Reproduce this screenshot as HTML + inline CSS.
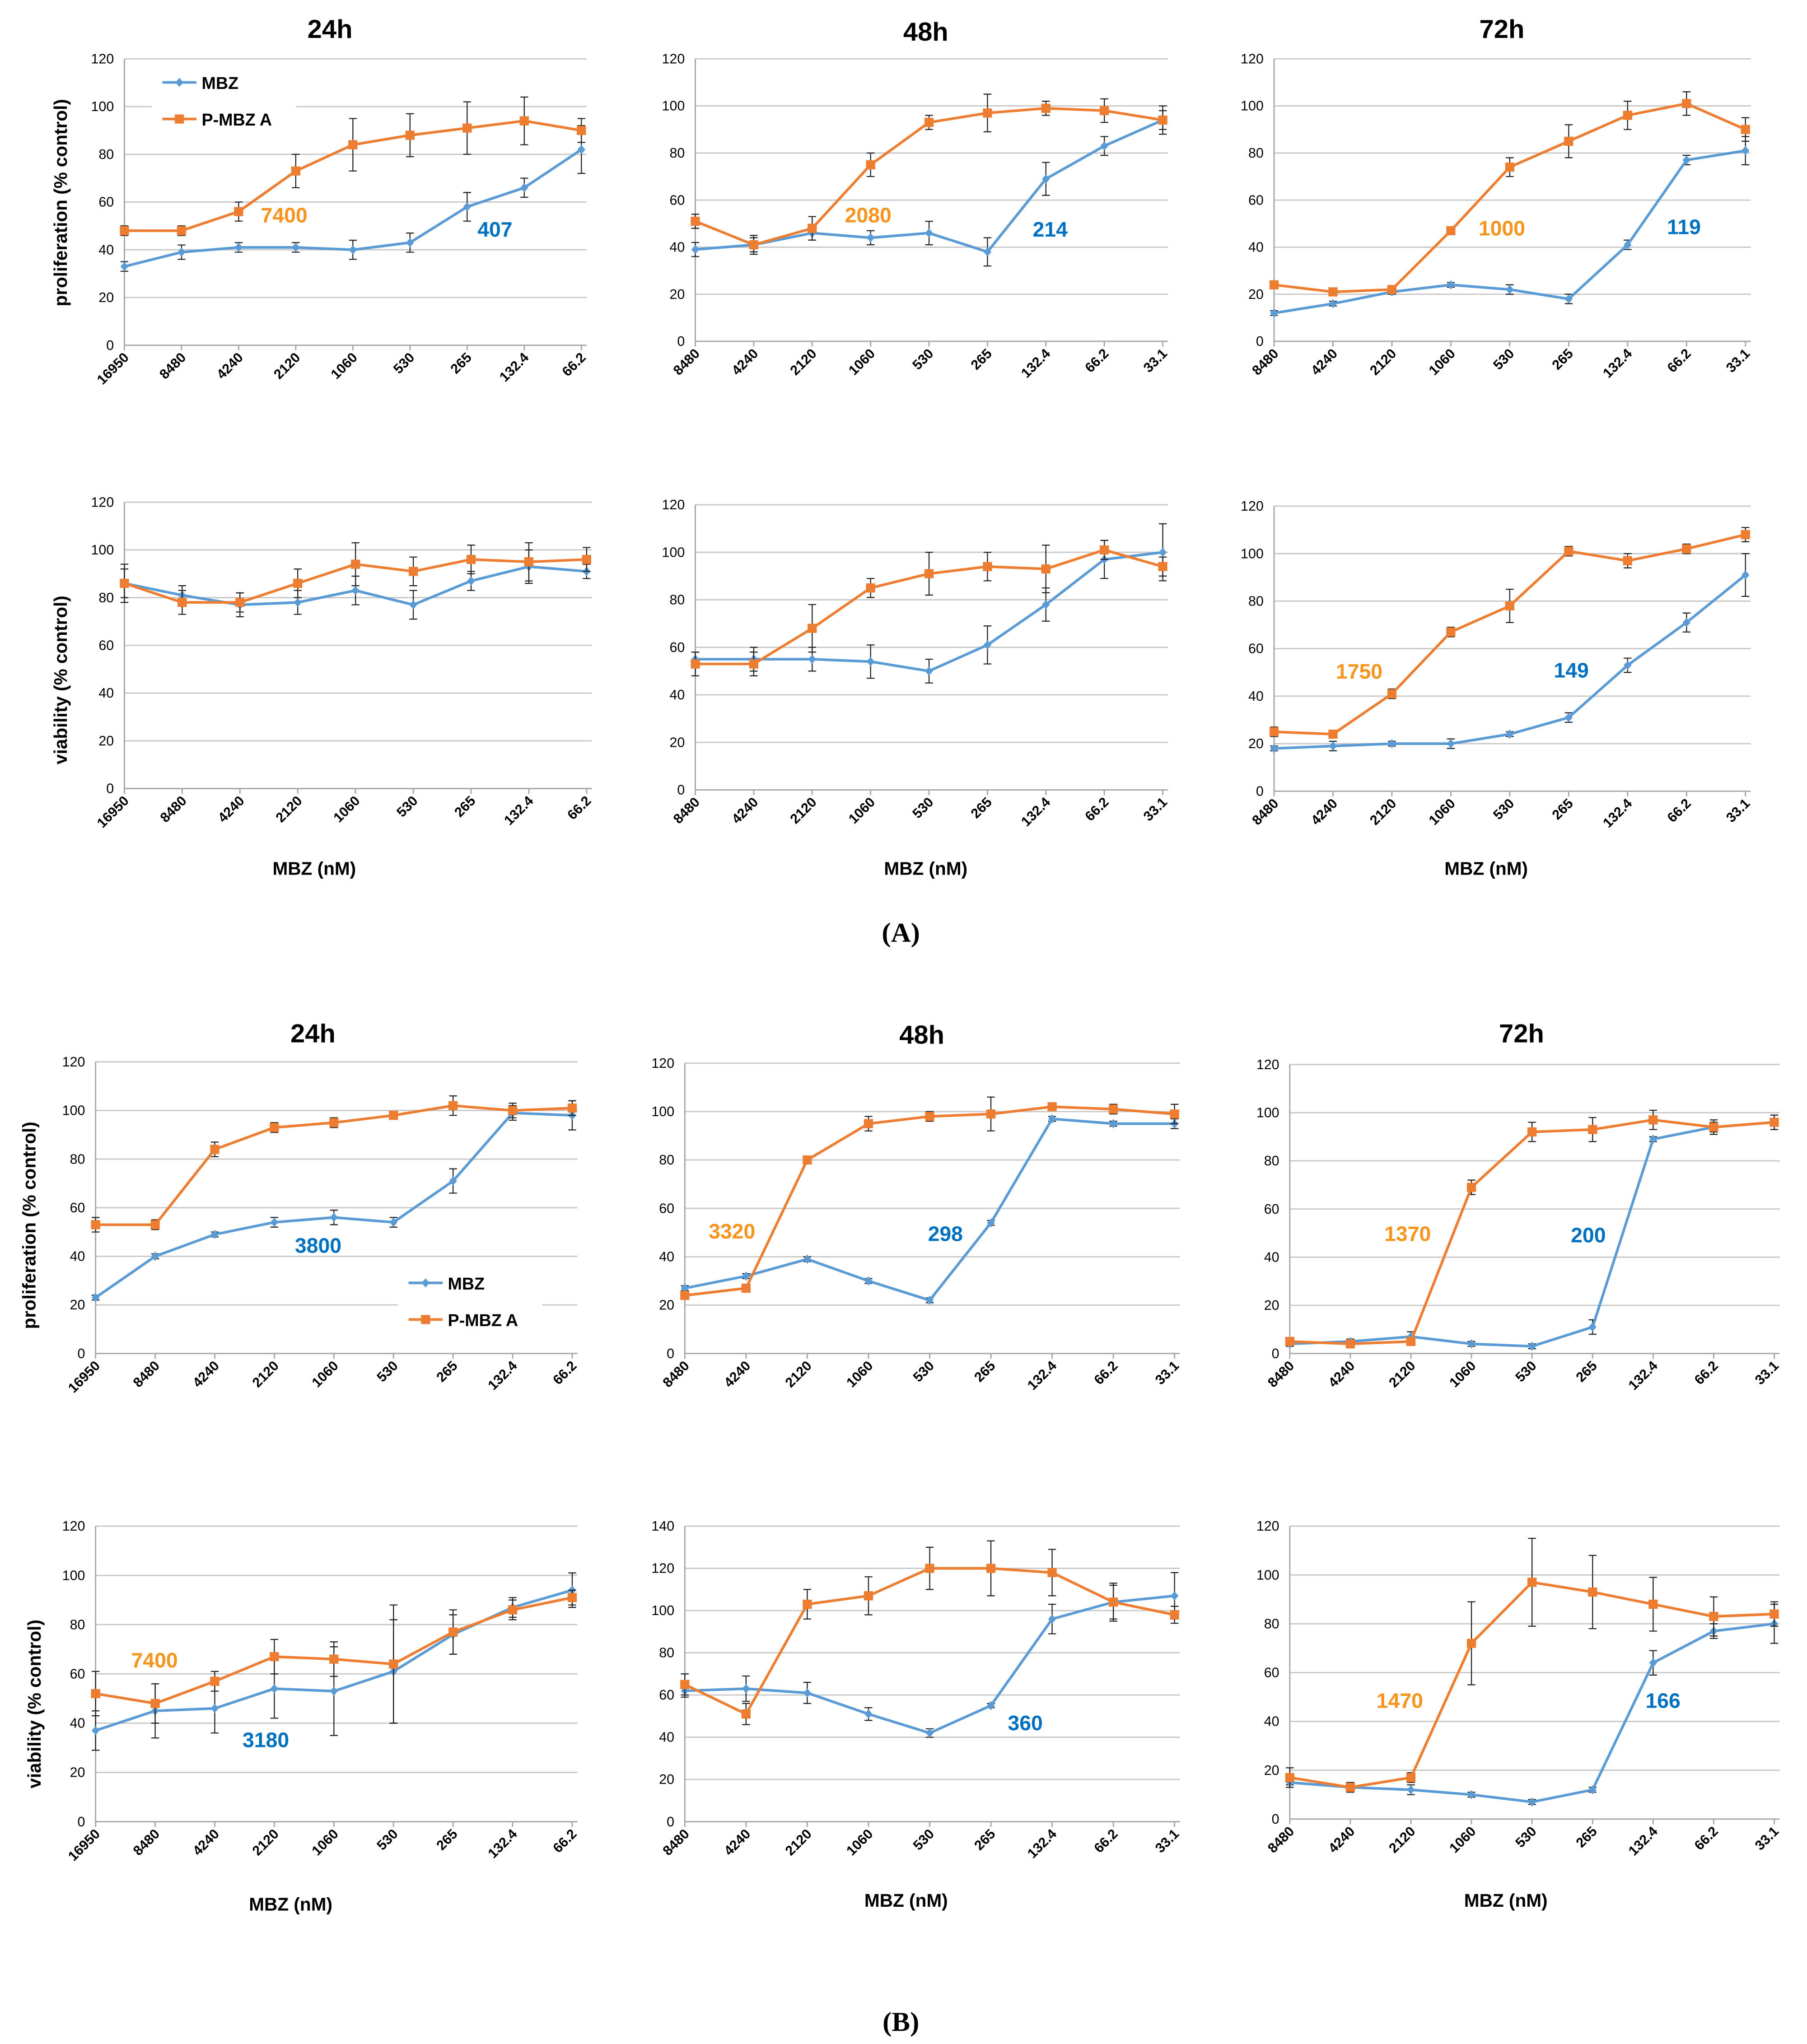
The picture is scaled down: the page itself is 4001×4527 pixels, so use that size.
<!DOCTYPE html>
<html><head><meta charset="utf-8"><style>
html,body{margin:0;padding:0;background:#fff;}
svg{display:block;font-family:"Liberation Sans",sans-serif;}
</style></head><body>
<svg id="fig" width="4001" height="4527" viewBox="0 0 1380 1563" preserveAspectRatio="none" xmlns="http://www.w3.org/2000/svg"></svg>
<script>
const catsA = ["16950","8480","4240","2120","1060","530","265","132.4","66.2"];
const catsB = ["8480","4240","2120","1060","530","265","132.4","66.2","33.1"];

// A proliferation
const aP24_mbz=[33,39,41,41,40,43,58,66,82], aP24_mbzErr=[2,3,2,2,4,4,6,4,10];
const aP24_pm=[48,48,56,73,84,88,91,94,90], aP24_pmErr=[2,2,4,7,11,9,11,10,5];
const aP48_mbz=[39,41,46,44,46,38,69,83,94], aP48_mbzErr=[3,3,3,3,5,6,7,4,6];
const aP48_pm=[51,41,48,75,93,97,99,98,94], aP48_pmErr=[3,4,5,5,3,8,3,5,4];
const aP72_mbz=[12,16,21,24,22,18,41,77,81], aP72_mbzErr=[1,1,1,1,2,2,2,2,6];
const aP72_pm=[24,21,22,47,74,85,96,101,90], aP72_pmErr=[1,1,1,1,4,7,6,5,5];
// A viability
const aV24_mbz=[86,81,77,78,83,77,87,93,91], aV24_mbzErr=[8,4,5,5,6,6,4,7,3];
const aV24_pm=[86,78,78,86,94,91,96,95,96], aV24_pmErr=[6,5,4,6,9,6,6,8,5];
const aV48_mbz=[55,55,55,54,50,61,78,97,100], aV48_mbzErr=[3,5,5,7,5,8,7,8,12];
const aV48_pm=[53,53,68,85,91,94,93,101,94], aV48_pmErr=[5,5,10,4,9,6,10,4,4];
const aV72_mbz=[18,19,20,20,24,31,53,71,91], aV72_mbzErr=[1,2,1,2,1,2,3,4,9];
const aV72_pm=[25,24,41,67,78,101,97,102,108], aV72_pmErr=[2,1,2,2,7,2,3,2,3];
// B proliferation
const bP24_mbz=[23,40,49,54,56,54,71,99,98], bP24_mbzErr=[1,1,1,2,3,2,5,3,6];
const bP24_pm=[53,53,84,93,95,98,102,100,101], bP24_pmErr=[3,2,3,2,2,1,4,3,3];
const bP48_mbz=[27,32,39,30,22,54,97,95,95], bP48_mbzErr=[1,1,1,1,1,1,1,1,2];
const bP48_pm=[24,27,80,95,98,99,102,101,99], bP48_pmErr=[1,1,1,3,2,7,1,2,4];
const bP72_mbz=[4,5,7,4,3,11,89,94,96], bP72_mbzErr=[1,1,2,1,1,3,1,2,3];
const bP72_pm=[5,4,5,69,92,93,97,94,96], bP72_pmErr=[1,1,1,3,4,5,4,3,3];
// B viability
const bV24_mbz=[37,45,46,54,53,61,76,87,94], bV24_mbzErr=[8,11,10,12,18,21,8,4,7];
const bV24_pm=[52,48,57,67,66,64,77,86,91], bV24_pmErr=[9,8,4,7,7,24,9,4,3];
const bV48_mbz=[62,63,61,51,42,55,96,104,107], bV48_mbzErr=[3,6,5,3,2,1,7,9,11];
const bV48_pm=[65,51,103,107,120,120,118,104,98], bV48_pmErr=[5,5,7,9,10,13,11,8,4];
const bV72_mbz=[15,13,12,10,7,12,64,77,80], bV72_mbzErr=[1,1,2,1,1,1,5,3,8];
const bV72_pm=[17,13,17,72,97,93,88,83,84], bV72_pmErr=[4,2,2,17,18,15,11,8,5];

const NS="http://www.w3.org/2000/svg";
const svg=document.getElementById('fig');
const BLUE="#5b9bd5", ORANGE="#ed7d31", LBLUE="#0070c0", LORANGE="#f7941d";
function el(tag,attrs,parent){const e=document.createElementNS(NS,tag);for(const k in attrs)e.setAttribute(k,attrs[k]);(parent||svg).appendChild(e);return e;}
function txt(s,attrs,parent){const t=el('text',attrs,parent);t.textContent=s;return t;}

const panels=[
 {id:'a-prolif-24h',x0:95,x1:444,y0:264,yT:45,ymax:120,cats:catsA,m:aP24_mbz,me:aP24_mbzErr,p:aP24_pm,pe:aP24_pmErr,lab:[["7400",217,170,LORANGE],["407",378,181,LBLUE]]},
 {id:'a-prolif-48h',x0:531,x1:888,y0:261,yT:45,ymax:120,cats:catsB,m:aP48_mbz,me:aP48_mbzErr,p:aP48_pm,pe:aP48_pmErr,lab:[["2080",663,170,LORANGE],["214",802,181,LBLUE]]},
 {id:'a-prolif-72h',x0:973,x1:1333,y0:261,yT:45,ymax:120,cats:catsB,m:aP72_mbz,me:aP72_mbzErr,p:aP72_pm,pe:aP72_pmErr,lab:[["1000",1147,180,LORANGE],["119",1286,179,LBLUE]]},
 {id:'a-viab-24h',x0:95,x1:448,y0:603,yT:384,ymax:120,cats:catsA,m:aV24_mbz,me:aV24_mbzErr,p:aV24_pm,pe:aV24_pmErr,lab:[]},
 {id:'a-viab-48h',x0:531,x1:888,y0:604,yT:386,ymax:120,cats:catsB,m:aV48_mbz,me:aV48_mbzErr,p:aV48_pm,pe:aV48_pmErr,lab:[]},
 {id:'a-viab-72h',x0:973,x1:1333,y0:605,yT:387,ymax:120,cats:catsB,m:aV72_mbz,me:aV72_mbzErr,p:aV72_pm,pe:aV72_pmErr,lab:[["1750",1038,519,LORANGE],["149",1200,518,LBLUE]]},
 {id:'b-prolif-24h',x0:73,x1:437,y0:1035,yT:812,ymax:120,cats:catsA,m:bP24_mbz,me:bP24_mbzErr,p:bP24_pm,pe:bP24_pmErr,lab:[["3800",243,958,LBLUE]]},
 {id:'b-prolif-48h',x0:523,x1:897,y0:1035,yT:813,ymax:120,cats:catsB,m:bP48_mbz,me:bP48_mbzErr,p:bP48_pm,pe:bP48_pmErr,lab:[["3320",559,947,LORANGE],["298",722,949,LBLUE]]},
 {id:'b-prolif-72h',x0:985,x1:1355,y0:1035,yT:814,ymax:120,cats:catsB,m:bP72_mbz,me:bP72_mbzErr,p:bP72_pm,pe:bP72_pmErr,lab:[["1370",1075,949,LORANGE],["200",1213,950,LBLUE]]},
 {id:'b-viab-24h',x0:73,x1:437,y0:1393,yT:1167,ymax:120,cats:catsA,m:bV24_mbz,me:bV24_mbzErr,p:bV24_pm,pe:bV24_pmErr,lab:[["7400",118,1275,LORANGE],["3180",203,1336,LBLUE]]},
 {id:'b-viab-48h',x0:523,x1:897,y0:1393,yT:1167,ymax:140,cats:catsB,m:bV48_mbz,me:bV48_mbzErr,p:bV48_pm,pe:bV48_pmErr,lab:[["360",783,1323,LBLUE]]},
 {id:'b-viab-72h',x0:985,x1:1355,y0:1391,yT:1167,ymax:120,cats:catsB,m:bV72_mbz,me:bV72_mbzErr,p:bV72_pm,pe:bV72_pmErr,lab:[["1470",1069,1306,LORANGE],["166",1270,1306,LBLUE]]},
];

panels.forEach(P=>{
  const g=el('g',{});
  
  
  const n=P.cats.length;
  const xs=i=>P.x0+(P.x1-P.x0)*i/(n-1);
  const ys=v=>P.y0-(P.y0-P.yT)*v/P.ymax;
  for(let v=0;v<=P.ymax;v+=20){
    const gl=el('line',{x1:P.x0,x2:P.x1+4,y1:ys(v),y2:ys(v),stroke:v===0?'#a6a6a6':'#c8c8c8','stroke-width':1},g);
    
    
    const t=txt(String(v),{x:P.x0-8,y:ys(v)+3.5,'font-size':10.5,'text-anchor':'end',fill:'#000'},g);
    
    
  }
  el('line',{x1:P.x0,x2:P.x0,y1:P.yT,y2:P.y0,stroke:'#a6a6a6','stroke-width':1},g);
  P.cats.forEach((c,i)=>{
    el('line',{x1:xs(i),x2:xs(i),y1:P.y0,y2:P.y0+4,stroke:'#a6a6a6'},g);
    const t=txt(c,{transform:`translate(${xs(i)+4},${P.y0+10}) rotate(-45)`,'font-size':10.5,'font-weight':'bold','text-anchor':'end',fill:'#000'},g);
    
    
  });
  [[P.m,P.me,BLUE,'mbz'],[P.p,P.pe,ORANGE,'p-mbz-a']].forEach(([vals,errs,col,nm])=>{
    vals.forEach((v,i)=>{
      const x=xs(i),yh=ys(v+errs[i]),yl=ys(v-errs[i]);
      el('path',{d:`M${x},${yh}V${yl}M${x-3},${yh}H${x+3}M${x-3},${yl}H${x+3}`,stroke:'#222','stroke-width':0.8,fill:'none'},g);
    });
    const line=el('polyline',{points:vals.map((v,i)=>xs(i)+','+ys(v)).join(' '),fill:'none',stroke:col,'stroke-width':2},g);
    
    
    vals.forEach((v,i)=>{
      const x=xs(i),y=ys(v);
      let mk;
      if(nm==='mbz') mk=el('path',{d:`M${x},${y-3.5}L${x+3},${y}L${x},${y+3.5}L${x-3},${y}Z`,fill:col},g);
      else mk=el('rect',{x:x-3.5,y:y-3.5,width:7,height:7,fill:col},g);
      
      
    });
  });
  P.lab.forEach(([s,x,y,c])=>{
    const t=txt(s,{x:x,y:y,'font-size':16,'font-weight':'bold','text-anchor':'middle',fill:c},g);
    
    
  });
});

function legend(x,y){
  const g=el('g',{});
  
  
  el('rect',{x:x-8,y:y-14,width:110,height:46,fill:'#fff'},g);
  el('line',{x1:x,x2:x+26,y1:y,y2:y,stroke:BLUE,'stroke-width':2},g);
  el('path',{d:`M${x+13},${y-3.5}L${x+16},${y}L${x+13},${y+3.5}L${x+10},${y}Z`,fill:BLUE},g);
  txt('MBZ',{x:x+30,y:y+5,'font-size':13,'font-weight':'bold'},g);
  el('line',{x1:x,x2:x+26,y1:y+28,y2:y+28,stroke:ORANGE,'stroke-width':2},g);
  el('rect',{x:x+9.5,y:y+24.5,width:7,height:7,fill:ORANGE},g);
  txt('P-MBZ A',{x:x+30,y:y+33,'font-size':13,'font-weight':'bold'},g);
}
legend(124,63);
legend(312,981);

function label(s,x,y,size,rot,name){
  const t=txt(s,{x:x,y:y,'font-size':size,'font-weight':'bold','text-anchor':'middle',transform:rot?`rotate(-90 ${x} ${y})`:''});
  
  
}
label('24h',252,29,20,false,'title-24h');label('48h',707,31,20,false,'title-48h');label('72h',1147,29,20,false,'title-72h');
label('24h',239,797,20,false,'title-24h');label('48h',704,798,20,false,'title-48h');label('72h',1162,797,20,false,'title-72h');
label('proliferation (% control)',51,155,14,true,'y-axis-title');
label('viability (% control)',51,520,14,true,'y-axis-title');
label('proliferation (% control)',27,937,14,true,'y-axis-title');
label('viability (% control)',31,1303,14,true,'y-axis-title');
label('MBZ (nM)',240,669,14,false,'x-axis-title');label('MBZ (nM)',707,669,14,false,'x-axis-title');label('MBZ (nM)',1135,669,14,false,'x-axis-title');
label('MBZ (nM)',222,1461,14,false,'x-axis-title');label('MBZ (nM)',692,1458,14,false,'x-axis-title');label('MBZ (nM)',1150,1458,14,false,'x-axis-title');
const pa=txt('(A)',{x:688,y:720,'font-size':21,'font-weight':'bold','font-family':'Liberation Serif, serif','text-anchor':'middle'});

const pb=txt('(B)',{x:688,y:1553,'font-size':21,'font-weight':'bold','font-family':'Liberation Serif, serif','text-anchor':'middle'});

</script>
</body></html>
